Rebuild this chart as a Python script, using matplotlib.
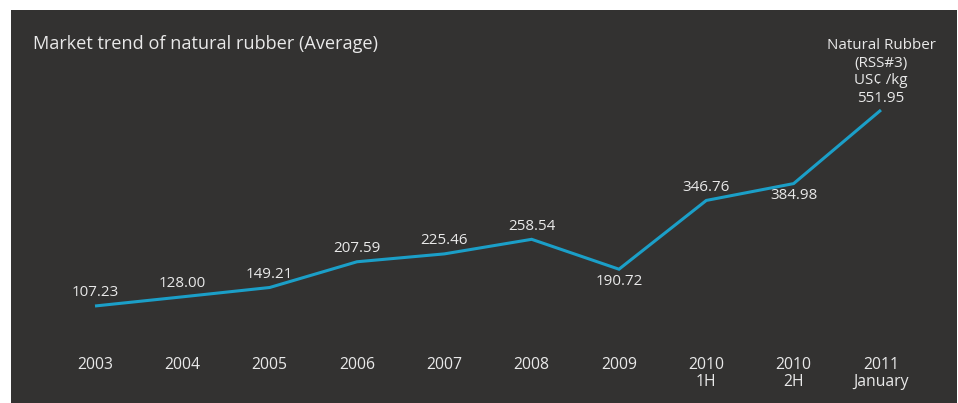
import matplotlib
matplotlib.use("Agg")
import matplotlib.pyplot as plt
import matplotlib.transforms as mtransforms

categories = ["2003", "2004", "2005", "2006", "2007", "2008", "2009", "2010\n1H", "2010\n2H", "2011\nJanuary"]
values = [107.23, 128.00, 149.21, 207.59, 225.46, 258.54, 190.72, 346.76, 384.98, 551.95]
value_labels = ["107.23", "128.00", "149.21", "207.59", "225.46", "258.54", "190.72", "346.76", "384.98", "551.95"]
label_below = [False, False, False, False, False, False, True, False, True, False]
title = "Market trend of natural rubber (Average)"
series_note = "Natural Rubber\n(RSS#3)\nUS¢ /kg"

BG = "#333231"
LINE = "#1b9fc8"
TXT = "#e9e9e9"

W, H = 958, 403
fig = plt.figure(figsize=(W / 100, H / 100), dpi=100, facecolor="white")

# dark panel
px_l, px_t, px_r, px_b = 11, 10, 957, 403
ax = fig.add_axes([px_l / W, 1 - px_b / H, (px_r - px_l) / W, (px_b - px_t) / H])
ax.set_facecolor(BG)
for s in ax.spines.values():
    s.set_visible(False)
ax.set_xticks([])
ax.set_yticks([])

# scales
x0_px, dx_px = 95, 87.33
ax.set_xlim(-(x0_px - px_l) / dx_px, 9 + (px_r - (x0_px + 9 * dx_px)) / dx_px)
k = 196 / (551.95 - 107.23)  # px per unit
ax.set_ylim(107.23 - (px_b - 306) / k, 107.23 + (306 - px_t) / k)

xs = list(range(len(values)))
ax.plot(xs, values, color=LINE, lw=2.2, solid_joinstyle="miter", solid_capstyle="butt")

vfont = dict(family=["Open Sans", "DejaVu Sans"], size=10.9, color=TXT)
n = len(values)
for i, (x, v, lab, below) in enumerate(zip(xs, values, value_labels, label_below)):
    if below:
        dy = -12
    elif i == n - 1:
        dy = 11
    else:
        dy = 13
    ax.annotate(lab, (x, v), xytext=(0, dy), textcoords="offset pixels",
                ha="center", va="center", **vfont)

ax.annotate(series_note, (xs[-1], values[-1]), xytext=(0, 47), textcoords="offset pixels",
            ha="center", va="center", linespacing=1.2, **vfont)

# category labels
trans = mtransforms.blended_transform_factory(ax.transData, ax.transAxes)
cfont = dict(family=["Open Sans", "DejaVu Sans"], size=11.3, color=TXT)
ycat = 1 - (357 - px_t) / (px_b - px_t)
for x, c in zip(xs, categories):
    ax.text(x, ycat, c, transform=trans, ha="center", va="top",
            linespacing=1.12, **cfont)

fig.text(33 / W, 1 - 44 / H, title, ha="left", va="center",
         family=["Open Sans", "DejaVu Sans"], size=13.1, color=TXT)

fig.savefig("out.png", dpi=100, facecolor="white")
